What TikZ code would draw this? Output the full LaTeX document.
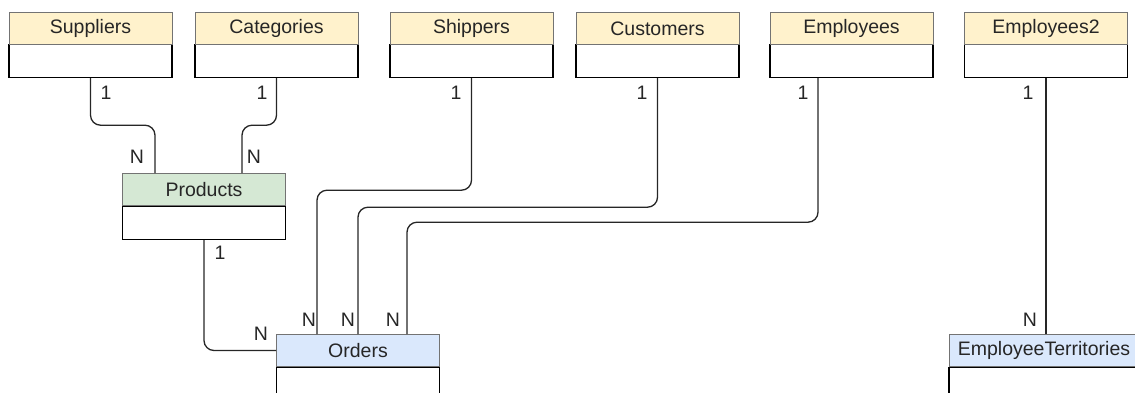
\documentclass[tikz,border=0pt]{standalone}
\usepackage{fontspec}
\setmainfont{Liberation Sans}
\begin{document}
\begin{tikzpicture}[x=1pt,y=-1pt,
  every node/.style={font=\fontsize{19.5}{23}\selectfont, text=black!85},
  hdr/.style={draw=black!55, line width=1pt, minimum width=163pt, minimum height=32pt, inner sep=0pt, anchor=north},
  yel/.style={hdr, fill={rgb,255:red,255;green,242;blue,204}},
  grn/.style={hdr, fill={rgb,255:red,213;green,232;blue,212}},
  blu/.style={hdr, fill={rgb,255:red,218;green,232;blue,252}},
  bdy/.style={draw=black, line width=1.2pt, fill=white, minimum width=163pt, minimum height=33pt, inner sep=0pt, anchor=north},
  conn/.style={draw=black!85, line width=1.3pt, rounded corners=10pt},
  lbl/.style={inner sep=0pt}]
\useasboundingbox (0,0) rectangle (1135,392);
\clip (0,0) rectangle (1135,392);
% top tables
\node[bdy] (supB) at (90.5,44) {};
\node[yel] (supH) at (90.5,12) {Suppliers};
\node[bdy] (catB) at (276.5,44) {};
\node[yel] (catH) at (276.5,12) {Categories};
\node[bdy] (shiB) at (471.5,44) {};
\node[yel] (shiH) at (471.5,12) {Shippers};
\node[bdy] (cusB) at (657.5,44) {};
\node[yel] (cusH) at (657.5,12) {Customers};
\node[bdy] (empB) at (851.5,44) {};
\node[yel] (empH) at (851.5,12) {Employees};
\node[bdy] (em2B) at (1046,44) {};
\node[yel] (em2H) at (1046,12) {Employees2};
% Products
\node[bdy] (proB) at (204,206) {};
\node[grn] (proH) at (204,173) {Products};
% Orders
\node[bdy] (ordB) at (358,367) {};
\node[blu] (ordH) at (358,334) {Orders};
% EmployeeTerritories
\node[bdy, minimum width=190pt] (etB) at (1044,367) {};
\node[blu, minimum width=190pt] (etH) at (1044,334) {EmployeeTerritories};
% connectors
\draw[conn] (supB.south) -- ++(0,47) -| ([xshift=-49pt]proH.north);
\draw[conn] (catB.south) -- ++(0,47) -| ([xshift=38pt]proH.north);
\draw[conn] (shiB.south) -- ++(0,112) -| ([xshift=-41pt]ordH.north);
\draw[conn] (cusB.south) -- ++(0,129) -| (ordH.north);
\draw[conn] ([xshift=-33.5pt]empB.south) -- ++(0,144) -| ([xshift=49pt]ordH.north);
\draw[conn] (proB.south) |- (ordH.west);
\draw[conn] (em2B.south) -- (em2B.south |- etH.north);
% labels
\node[lbl] (l1) at (106,93) {1};
\node[lbl] (l2) at (262,93) {1};
\node[lbl] (l3) at (456,93) {1};
\node[lbl] (l4) at (642,93) {1};
\node[lbl] (l5) at (803,93) {1};
\node[lbl] (l6) at (1028,93) {1};
\node[lbl] (n1) at (137,157) {N};
\node[lbl] (n2) at (254,157) {N};
\node[lbl] (l7) at (220,253) {1};
\node[lbl] (n3) at (261,334) {N};
\node[lbl] (n4) at (309,320) {N};
\node[lbl] (n5) at (348,320) {N};
\node[lbl] (n6) at (393,320) {N};
\node[lbl] (n7) at (1030,320) {N};
\end{tikzpicture}
\end{document}
